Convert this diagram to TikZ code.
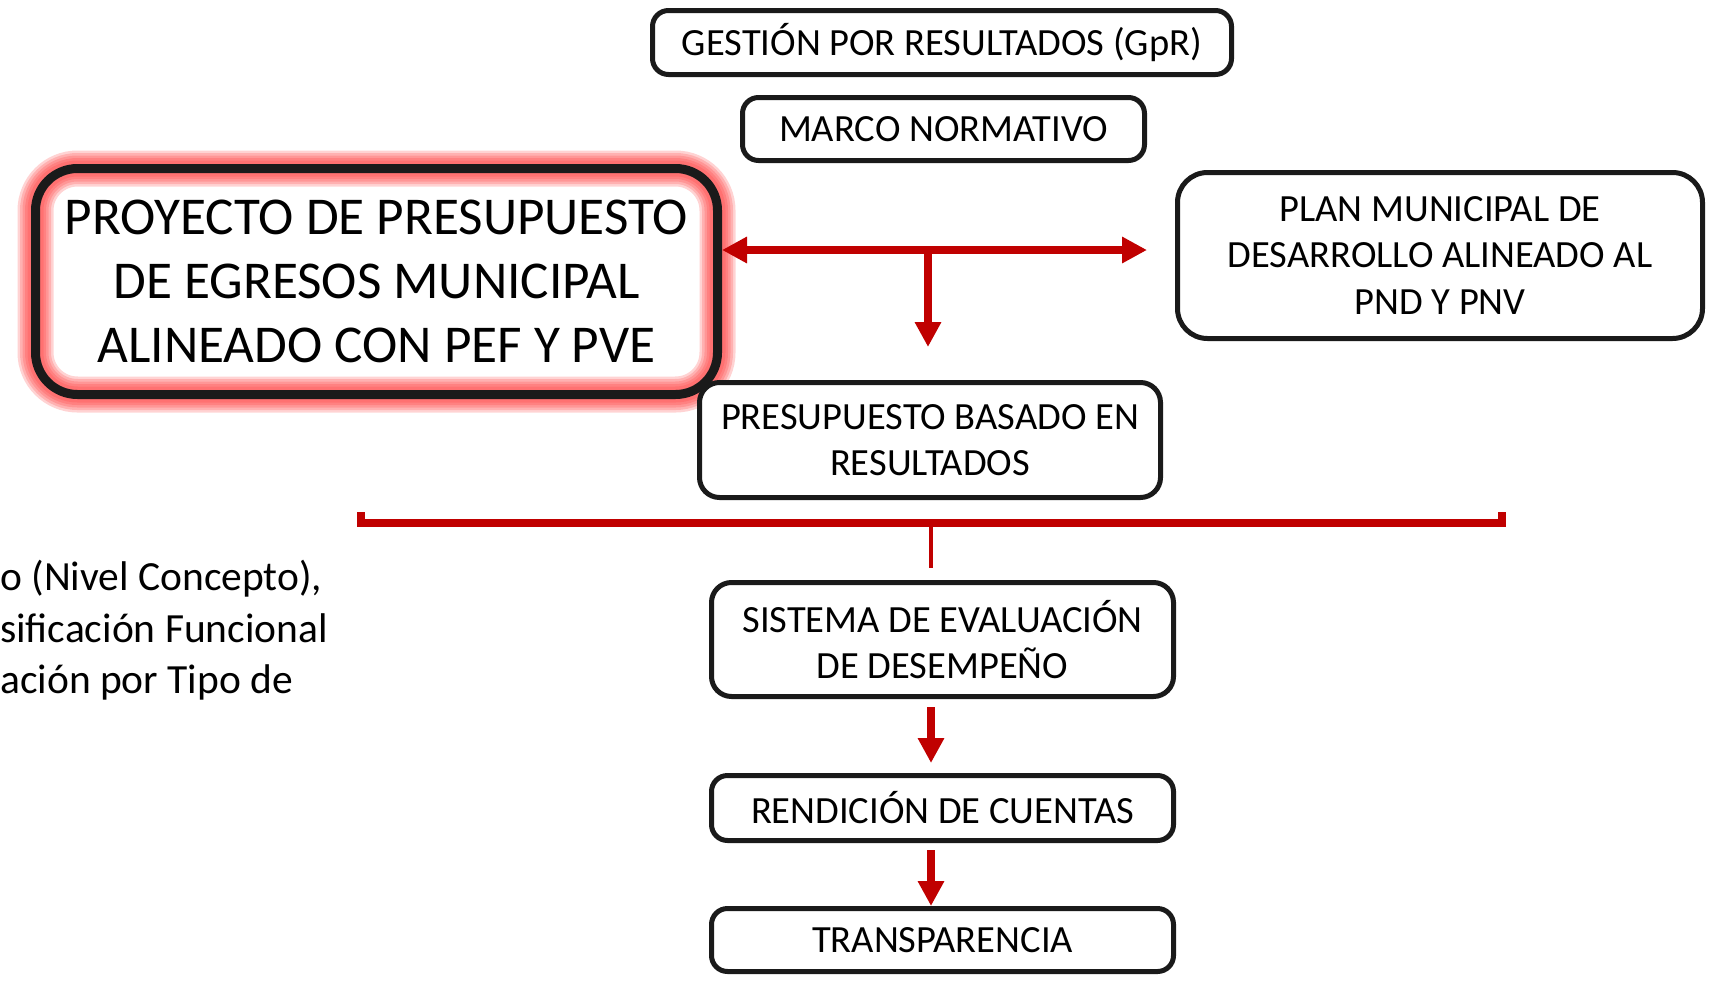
\documentclass[tikz,border=0pt]{standalone}
\usepackage{fontspec}
\setmainfont{Carlito}
\usetikzlibrary{arrows.meta,calc,backgrounds}
\definecolor{dred}{HTML}{C00000}
\definecolor{glowred}{HTML}{FF3838}
\definecolor{bord}{HTML}{1A1A1A}
\newcommand\boxfnt{\fontsize{38.5}{46.5}\selectfont}
\newcommand\bigfnt{\fontsize{53.2}{64}\selectfont}
\newcommand\sidefnt{\fontsize{41.5}{51}\selectfont}
\begin{document}
\begin{tikzpicture}[x=1pt,y=-1pt,
  box/.style={draw=bord, line width=5pt, fill=white, align=center, inner sep=0pt,
              font=\boxfnt, text=black, rounded corners=#1},
  box/.default=16pt,
  arr/.style={draw=dred, line width=7.5pt, -{Triangle[length=25pt,width=25pt]}},
  dblarr/.style={draw=dred, line width=7.5pt, {Triangle[length=25pt,width=25pt]}-{Triangle[length=25pt,width=25pt]}},
  sidetext/.style={anchor=base west, inner sep=0pt, font=\sidefnt, text=black},
]
\useasboundingbox (0,0) rectangle (1716,980);

\node[box, minimum width=579pt, minimum height=64pt] (gpr) at (942,42.5) {GESTIÓN POR RESULTADOS (GpR)};
\node[box, minimum width=402pt, minimum height=63pt] (marco) at (943.5,129) {MARCO NORMATIVO};
\node[box=30pt, minimum width=525pt, minimum height=166pt] (plan) at (1440,255.5) {PLAN MUNICIPAL DE\\DESARROLLO ALINEADO AL\\PND Y PNV};
\node[box=20pt, minimum width=461pt, minimum height=115pt] (pbr) at (930,440) {PRESUPUESTO BASADO EN\\RESULTADOS};
\node[box=20pt, minimum width=462pt, minimum height=114pt] (sed) at (942.5,639.5) {SISTEMA DE EVALUACIÓN\\DE DESEMPEÑO};
\node[box, minimum width=462pt, minimum height=65pt] (rend) at (942.5,808) {RENDICIÓN DE CUENTAS};
\node[box, minimum width=462pt, minimum height=63pt] (trans) at (942.5,940) {TRANSPARENCIA};

\node[draw=bord, line width=9pt, rounded corners=42pt, align=center, inner sep=0pt,
      font=\bigfnt, text=black, minimum width=682pt, minimum height=226pt] (proy) at (376.5,281.5)
  {PROYECTO DE PRESUPUESTO\\DE EGRESOS MUNICIPAL\\ALINEADO CON PEF Y PVE};
\begin{scope}[on background layer]
  \foreach \w in {36,31,26,21,16}
    \draw[glowred, line width=\w pt, opacity=0.22, rounded corners=42pt]
      ($(proy.north west)+(4.5,4.5)$) rectangle ($(proy.south east)+(-4.5,-4.5)$);
\end{scope}

\node[sidetext] (s1) at (0,590) {o (Nivel Concepto),};
\node[sidetext] (s2) at (0,642) {sificación Funcional};
\node[sidetext] (s3) at (0,693) {ación por Tipo de};

\coordinate (hy) at (928,250);
\draw[dblarr] (proy.east |- hy) -- ($(plan.west |- hy)+(-28,0)$);
\draw[arr] (hy) -- ($(pbr.north -| hy)+(0,-33)$);

\draw[dred, line width=8pt] (361,512) -- (361,522.5) -- (1502,522.5) -- (1502,512);
\coordinate (stem) at (931,522.5);
\draw[dred, line width=3.5pt] (stem) -- ($(stem |- sed.north)+(0,-12)$);

\coordinate (ax) at (931,0);
\draw[arr] ($(sed.south -| ax)+(0,8)$) -- ($(rend.north -| ax)+(0,-10)$);
\draw[arr] ($(rend.south -| ax)+(0,7)$) -- (trans.north -| ax);
\end{tikzpicture}
\end{document}
